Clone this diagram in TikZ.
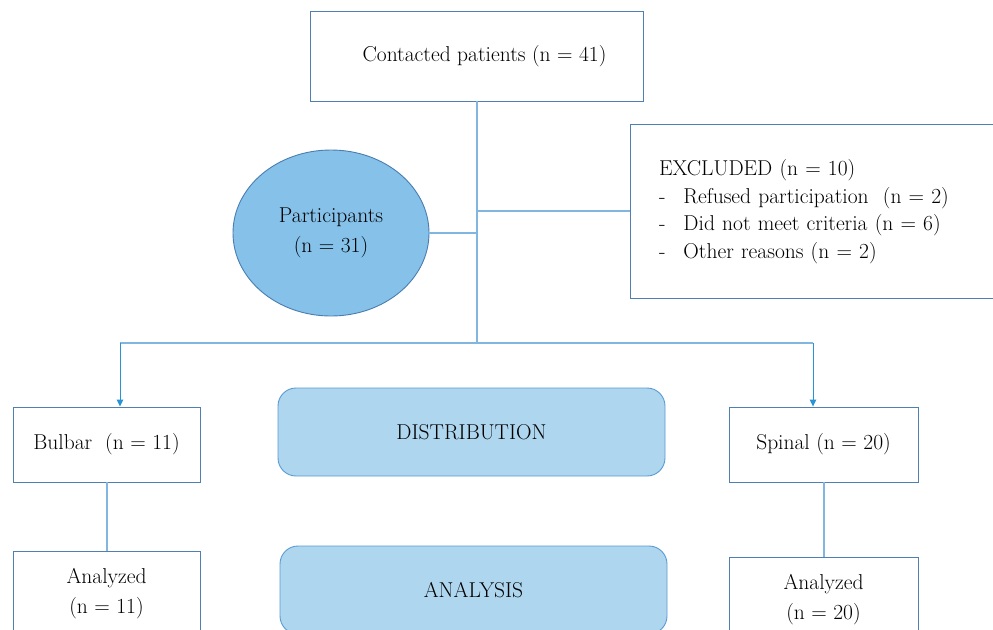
\documentclass[tikz,border=0pt]{standalone}
\usetikzlibrary{arrows.meta,shapes.geometric}
\definecolor{boxline}{RGB}{80,128,178}
\definecolor{conn}{RGB}{128,182,224}
\definecolor{arrowc}{RGB}{40,148,214}
\definecolor{ellfill}{RGB}{133,193,233}
\definecolor{ellline}{RGB}{74,126,176}
\definecolor{rfill}{RGB}{174,214,238}
\definecolor{rline}{RGB}{91,155,213}
\tikzset{
  plainbox/.style={draw=boxline, line width=0.9pt, fill=white, align=center, inner sep=0pt, font=\fontsize{21.5}{29.5}\selectfont},
  phasebox/.style={draw=rline, line width=0.9pt, fill=rfill, rounded corners=18pt, align=center, inner sep=0pt, font=\fontsize{21.5}{29.5}\selectfont},
  connector/.style={draw=conn, line width=1.1pt},
  arrowconn/.style={draw=arrowc, line width=1pt, -{Triangle[length=7pt,width=6.5pt]}}
}
\begin{document}
\begin{tikzpicture}[x=1pt,y=-1pt]
\useasboundingbox (0,0) rectangle (993,629);
\clip (0,0) rectangle (993,629);
\fill[white] (0,0) rectangle (993,629);
% nodes
\node[plainbox, minimum width=333pt, minimum height=90pt] (top) at (476.5,56) {\hspace*{16pt}Contacted patients (n = 41)};
\node[ellipse, draw=ellline, line width=0.9pt, fill=ellfill, minimum width=196pt, minimum height=166pt, inner sep=0pt, align=center, font=\fontsize{21.5}{29.5}\selectfont] (part) at (331,233) {Participants\\(n = 31)};
\node[plainbox, minimum height=174pt, text width=307pt, inner xsep=29pt, align=left] (excl) at (812.5,211) {%
\begin{tabular}{@{}l@{\hspace{18pt}}l@{}}
\multicolumn{2}{@{}l}{EXCLUDED (n = 10)}\\[-2pt]
- & Refused participation\ \ (n = 2)\\[-2pt]
- & Did not meet criteria (n = 6)\\[-2pt]
- & Other reasons (n = 2)
\end{tabular}};
\node[plainbox, minimum width=187pt, minimum height=75pt] (bulbar) at (106.5,444.5) {Bulbar\ \ (n = 11)};
\node[plainbox, minimum width=189pt, minimum height=75pt] (spinal) at (823.5,444.5) {Spinal (n = 20)};
\node[phasebox, minimum width=387pt, minimum height=88pt] (dist) at (471.5,432) {DISTRIBUTION};
\node[phasebox, minimum width=387pt, minimum height=88pt] (anal) at (473.5,590) {ANALYSIS};
\node[plainbox, minimum width=187pt, minimum height=85pt] (anb) at (106.5,593.5) {Analyzed\\(n = 11)};
\node[plainbox, minimum width=189pt, minimum height=85pt] (ans) at (823.5,599.5) {Analyzed\\(n = 20)};
% coordinates
\coordinate (jm) at (477,343);
\coordinate (jl) at (120,343);
\coordinate (jr) at (813,343);
\coordinate (je) at (477,233);
\coordinate (jx) at (477,211);
\coordinate (cb) at (107,0);
\coordinate (cs) at (824,0);
% connectors
\draw[connector] (top.south -| jm) -- (jm);
\draw[connector] (part.east) -- (je);
\draw[connector] (jx) -- (excl.west |- jx);
\draw[connector] (jl) -- (jr);
\draw[arrowconn] (jl) -- (jl |- bulbar.north);
\draw[arrowconn] (jr) -- (jr |- spinal.north);
\draw[connector] (bulbar.south -| cb) -- (anb.north -| cb);
\draw[connector] (spinal.south -| cs) -- (ans.north -| cs);
\end{tikzpicture}
\end{document}
